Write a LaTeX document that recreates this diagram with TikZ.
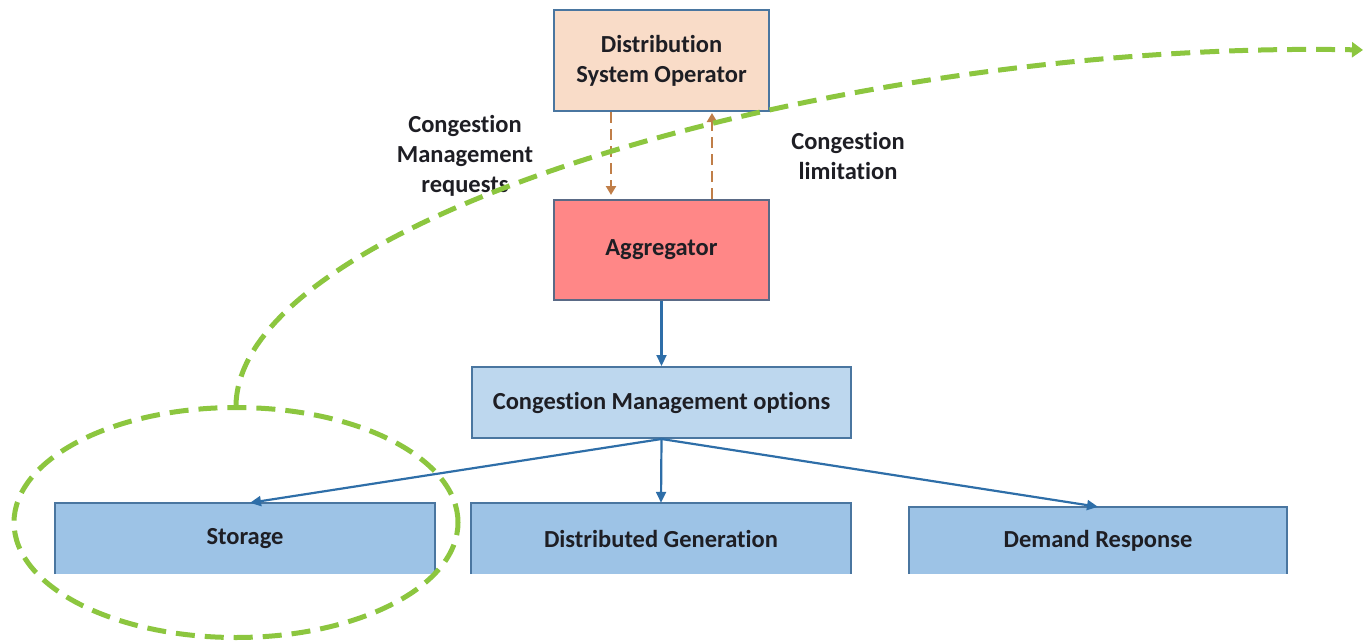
\documentclass[tikz,border=0pt]{standalone}
\usepackage{fontspec}
\setmainfont{Carlito}[Ligatures=NoCommon]
\usetikzlibrary{arrows.meta,shapes.geometric}
\definecolor{dsofill}{HTML}{F9DCC8}
\definecolor{aggfill}{HTML}{FF8787}
\definecolor{cmofill}{HTML}{BDD7EE}
\definecolor{optfill}{HTML}{9DC3E6}
\definecolor{boxline}{HTML}{4A76A0}
\definecolor{aggline}{HTML}{5A6A86}
\definecolor{bluearrow}{HTML}{2E6EA8}
\definecolor{orangearrow}{HTML}{C07E48}
\definecolor{greenline}{HTML}{8CC63F}
\definecolor{txt}{HTML}{1E1E24}
\begin{document}
\begin{tikzpicture}[x=1pt,y=-1pt,
  every node/.style={font=\fontsize{24.5}{30}\selectfont\bfseries, text=txt, align=center, inner sep=0pt},
  box/.style={draw=boxline, line width=2pt, rectangle},
  openbox/.style={fill=optfill, rectangle},
  blueline/.style={draw=bluearrow, line width=2.2pt, -{Triangle[length=11pt,width=10pt]}},
  orangeline/.style={draw=orangearrow, line width=2.4pt, dash pattern=on 11pt off 6pt, -{Triangle[length=9pt,width=10pt]}},
  greenline/.style={draw=greenline, line width=5pt, dash pattern=on 19pt off 10pt, line join=round},
  lbl/.style={}
]
\useasboundingbox (0,0) rectangle (1363,640);

% main boxes
\node[box, fill=dsofill, minimum width=215pt, minimum height=101pt] (dso) at (661.5,60.5) {Distribution\\System Operator};
\node[box, draw=aggline, fill=aggfill, minimum width=215pt, minimum height=100pt] (agg) at (661.5,250) {Aggregator};
\node[box, fill=cmofill, minimum width=379pt, minimum height=71pt] (cmo) at (661.5,402.5) {Congestion Management options};

% bottom option boxes (cropped at the bottom)
\node[openbox, minimum width=380pt, minimum height=71pt] (stor) at (245,538.5) {Storage};
\node[openbox, minimum width=380pt, minimum height=71pt] (dg) at (661,538.5) {Distributed Generation};
\node[openbox, minimum width=378pt, minimum height=67pt] (dr) at (1098,540.5) {Demand Response};
\foreach \b in {stor,dg,dr}{
  \draw[boxline, line width=2pt] (\b.south west) -- (\b.north west) -- (\b.north east) -- (\b.south east);
}

% labels
\node[lbl] (req) at (465,156) {Congestion\\Management\\requests};
\node[lbl] (lim) at (848,156) {Congestion\\limitation};

% orange dashed arrows
\draw[orangeline, shorten >=4pt] ([xshift=-50.5pt]dso.south) -- ([xshift=-50.5pt]agg.north);
\draw[orangeline, shorten >=1pt] ([xshift=50.5pt]agg.north) -- ([xshift=50.5pt]dso.south);

% blue arrows
\draw[blueline] (agg.south) -- (cmo.north);
\draw[blueline] (cmo.south) -- ([xshift=5pt]stor.north);
\draw[blueline] (cmo.south) -- (dg.north);
\draw[blueline] (cmo.south) -- (dr.north);

% green dashed highlight
\node[ellipse, draw=greenline, line width=5pt, dash pattern=on 19pt off 10pt, minimum width=444pt, minimum height=230pt] (ring) at (236,522.5) {};
\coordinate (tipend) at (1363,50);
\draw[greenline, -{Triangle[length=11pt,width=15pt]}] (ring.north) .. controls (240,215) and (850,40) .. (tipend);
\end{tikzpicture}
\end{document}
